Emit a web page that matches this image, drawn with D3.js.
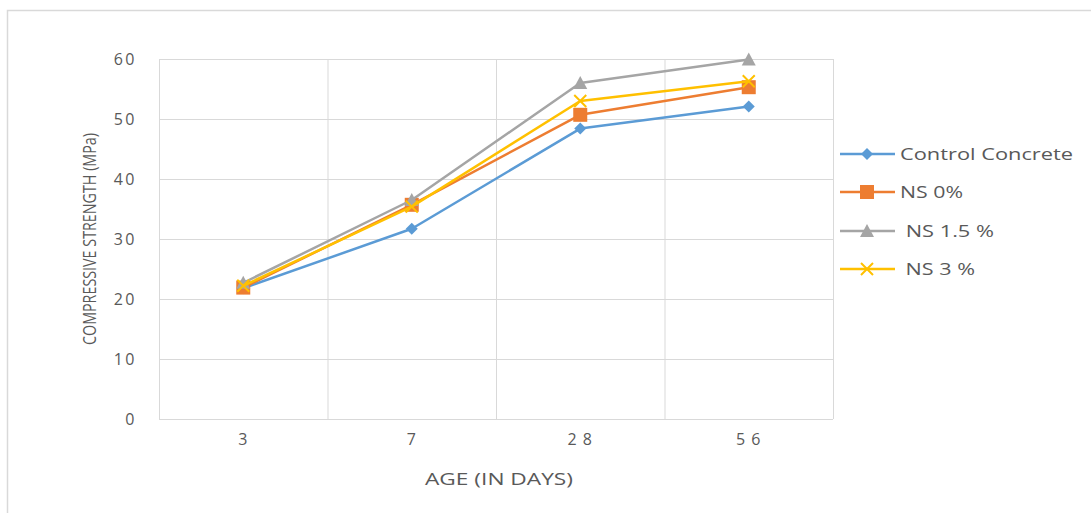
<!DOCTYPE html>
<html><head><meta charset="utf-8">
<script src="https://cdn.jsdelivr.net/npm/d3@7"></script>
<style>
body{margin:0;background:#fff;}
svg{display:block;font-family:"Open Sans","Liberation Sans",sans-serif;}
</style></head>
<body><svg id="c" width="1091" height="513"></svg>
<script>
const categories = ["3", "7", "28", "56"];
const categoryLabels = ["3", "7", "2 8", "5 6"];
const seriesNames = ["Control Concrete", "NS 0%", " NS 1.5 %", " NS 3 %"];
const controlConcrete = [21.8, 31.7, 48.4, 52.1];
const ns0 = [21.9, 35.7, 50.7, 55.3];
const ns15 = [22.7, 36.5, 56.0, 59.9];
const ns3 = [22.2, 35.4, 53.0, 56.3];
const yTicks = [0, 10, 20, 30, 40, 50, 60];
const seriesValues = [controlConcrete, ns0, ns15, ns3];
const colors = ["#5b9bd5", "#ed7d31", "#a5a5a5", "#ffc000"];
const markers = ["diamond", "square", "triangle", "x"];

const svg = d3.select("#c");
// outer chart border
svg.append("path").attr("d","M7.5,513 V10.5 H1091").attr("fill","none").attr("stroke","#d9d9d9").attr("stroke-width",1.5);

const L=159, R=833, T=59, B=419;
const x = d3.scaleBand().domain(categories).range([L,R]);
const y = d3.scaleLinear().domain([0,60]).range([B,T]);
const grid = svg.append("g");
yTicks.forEach(t=>{
  grid.append("line").attr("x1",L).attr("x2",R).attr("y1",y(t)+0.5).attr("y2",y(t)+0.5)
    .attr("stroke","#d9d9d9").attr("stroke-width",1);
});
categories.forEach(c=>{ grid.append("line").attr("x1",x(c)+0.5).attr("x2",x(c)+0.5).attr("y1",T).attr("y2",B).attr("stroke","#d9d9d9"); });
grid.append("line").attr("x1",R+0.5).attr("x2",R+0.5).attr("y1",T).attr("y2",B).attr("stroke","#d9d9d9");

// y axis labels
const yAxis = d3.axisLeft(y).tickValues(yTicks).tickSize(0).tickPadding(22);
const ya = svg.append("g").attr("transform",`translate(${L},0)`).call(yAxis);
ya.select(".domain").remove();
ya.selectAll("text").attr("font-size",16).attr("fill","#595959").attr("font-family","Open Sans, sans-serif").style("letter-spacing","2.5px");

const xAxis = d3.axisBottom(x).tickFormat((d,i)=>categoryLabels[i]).tickSize(0).tickPadding(14.5);
const xa = svg.append("g").attr("transform",`translate(0,${B})`).call(xAxis);
xa.select(".domain").remove();
xa.selectAll("text").attr("font-size",16).attr("fill","#595959").attr("font-family","Open Sans, sans-serif").style("letter-spacing","1px");

svg.append("text").attr("x",499).attr("y",485).attr("text-anchor","middle").attr("font-size",17).attr("fill","#595959")
  .attr("textLength",148).attr("lengthAdjust","spacingAndGlyphs").text("AGE (IN DAYS)");
svg.append("text").attr("transform","translate(96,239) rotate(-90)").attr("text-anchor","middle")
  .attr("font-size",18.5).attr("fill","#595959").attr("textLength",212).attr("lengthAdjust","spacingAndGlyphs")
  .text("COMPRESSIVE STRENGTH (MPa)");

const cx = c => x(c)+x.bandwidth()/2;
function drawMarker(g, type, color, px, py){
  if(type==="diamond"){
    g.append("path").attr("d",`M${px},${py-6}L${px+6},${py}L${px},${py+6}L${px-6},${py}Z`).attr("fill",color);
  } else if(type==="square"){
    g.append("rect").attr("x",px-7).attr("y",py-7).attr("width",14).attr("height",14).attr("fill",color);
  } else if(type==="triangle"){
    g.append("path").attr("d",`M${px},${py-7}L${px+7},${py+6}L${px-7},${py+6}Z`).attr("fill",color);
  } else {
    g.append("path").attr("d",`M${px-6},${py-6}L${px+6},${py+6}M${px+6},${py-6}L${px-6},${py+6}`).attr("stroke",color).attr("stroke-width",2);
  }
}
const line = d3.line().x((d,i)=>cx(categories[i])).y(d=>y(d));
seriesValues.forEach((vals,si)=>{
  const g = svg.append("g");
  g.append("path").datum(vals).attr("d",line).attr("fill","none").attr("stroke",colors[si]).attr("stroke-width",2.5).attr("stroke-linejoin","round");
  vals.forEach((v,i)=>drawMarker(g,markers[si],colors[si],cx(categories[i]),y(v)));
});

// legend
const legY = [154,192,231,269];
const legLen = [173, 63, 94, 75];
seriesNames.forEach((n,i)=>{
  const g = svg.append("g");
  g.append("line").attr("x1",840).attr("x2",895).attr("y1",legY[i]).attr("y2",legY[i]).attr("stroke",colors[i]).attr("stroke-width",2.5);
  drawMarker(g,markers[i],colors[i],867,legY[i]);
  g.append("text").attr("x",900).attr("y",legY[i]+6).attr("font-size",17).attr("fill","#595959").style("white-space","pre")
    .attr("textLength",legLen[i]).attr("lengthAdjust","spacingAndGlyphs").text(n);
});
</script></body></html>
